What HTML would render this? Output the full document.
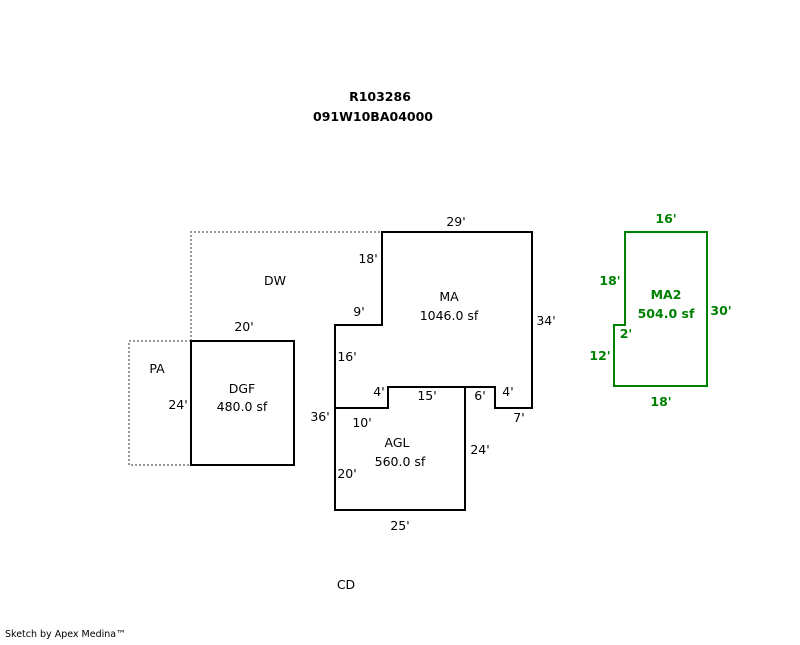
<!DOCTYPE html>
<html><head><style>
body{margin:0;background:#fff}
svg text{font-family:"DejaVu Sans","Liberation Sans",sans-serif;font-size:12.5px;fill:#000}
.g text{fill:#008000;font-weight:bold}
</style></head><body>
<svg width="800" height="640" xmlns="http://www.w3.org/2000/svg">
<text x="380" y="101" text-anchor="middle" font-weight="bold">R103286</text>
<text x="373" y="121" text-anchor="middle" font-weight="bold">091W10BA04000</text>
<g fill="none" stroke="#999" stroke-width="2" stroke-dasharray="2,2">
<path d="M191,341 V232 H382"/>
<path d="M191,341 H129 V465 H191"/>
</g>
<g fill="none" stroke="#000" stroke-width="2">
<path d="M382,232 H532 V408 H495 V387 H388 V408 H335 V325 H382 Z"/>
<path d="M335,408 V510 H465 V387"/>
<rect x="191" y="341" width="103" height="124"/>
</g>
<path d="M625,232 H707 V386 H614 V325 H625 Z" fill="none" stroke="#008000" stroke-width="2"/>
<text x="456" y="226" text-anchor="middle">29'</text>
<text x="368" y="263" text-anchor="middle">18'</text>
<text x="275" y="285" text-anchor="middle">DW</text>
<text x="449" y="301" text-anchor="middle">MA</text>
<text x="449" y="320" text-anchor="middle">1046.0 sf</text>
<text x="546" y="325" text-anchor="middle">34'</text>
<text x="359" y="316" text-anchor="middle">9'</text>
<text x="244" y="331" text-anchor="middle">20'</text>
<text x="347" y="361" text-anchor="middle">16'</text>
<text x="157" y="373" text-anchor="middle">PA</text>
<text x="242" y="393" text-anchor="middle">DGF</text>
<text x="242" y="411" text-anchor="middle">480.0 sf</text>
<text x="178" y="409" text-anchor="middle">24'</text>
<text x="379" y="396" text-anchor="middle">4'</text>
<text x="427" y="400" text-anchor="middle">15'</text>
<text x="480" y="400" text-anchor="middle">6'</text>
<text x="508" y="396" text-anchor="middle">4'</text>
<text x="519" y="422" text-anchor="middle">7'</text>
<text x="320" y="421" text-anchor="middle">36'</text>
<text x="362" y="427" text-anchor="middle">10'</text>
<text x="397" y="447" text-anchor="middle">AGL</text>
<text x="400" y="466" text-anchor="middle">560.0 sf</text>
<text x="480" y="454" text-anchor="middle">24'</text>
<text x="347" y="478" text-anchor="middle">20'</text>
<text x="400" y="530" text-anchor="middle">25'</text>
<text x="346" y="589" text-anchor="middle">CD</text>
<text x="5" y="637" style="font-size:9.5px">Sketch by Apex Medina™</text>
<g class="g">
<text x="666" y="223" text-anchor="middle">16'</text>
<text x="610" y="285" text-anchor="middle">18'</text>
<text x="666" y="299" text-anchor="middle">MA2</text>
<text x="666" y="318" text-anchor="middle">504.0 sf</text>
<text x="721" y="315" text-anchor="middle">30'</text>
<text x="626" y="338" text-anchor="middle">2'</text>
<text x="600" y="360" text-anchor="middle">12'</text>
<text x="661" y="406" text-anchor="middle">18'</text>
</g>
</svg>
</body></html>
